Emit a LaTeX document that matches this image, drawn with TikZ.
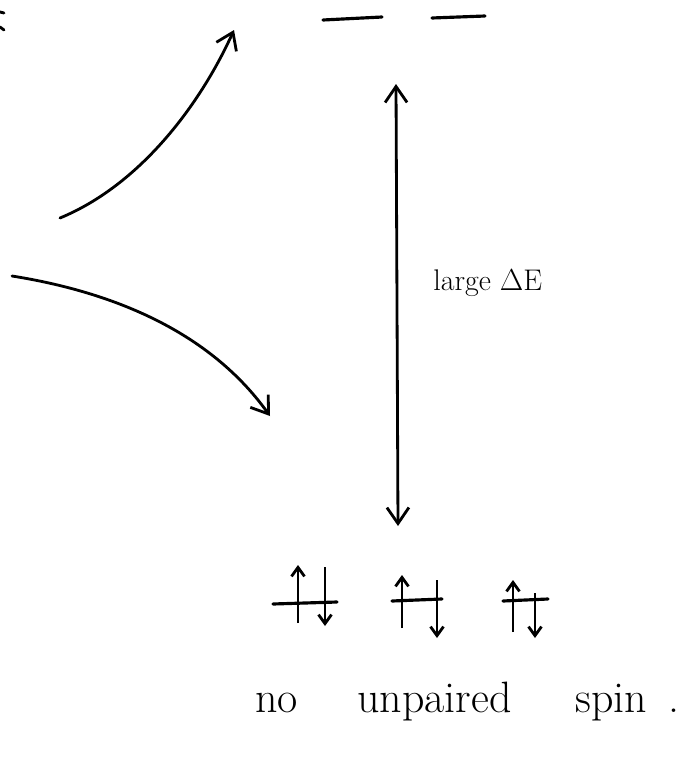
\documentclass[tikz,border=0pt]{standalone}
\usepackage{tikz}
\usetikzlibrary{arrows.meta}
\tikzset{
  level/.style    = {line width=1.8pt, line cap=round},
  sketch/.style   = {line width=1.6pt, line cap=round},
  trans/.style    = {sketch, -{Straight Barb[length=3.2mm,width=4.4mm]}},
  gap/.style      = {sketch, {Straight Barb[length=3.2mm,width=4.4mm]}-{Straight Barb[length=3.2mm,width=4.4mm]}},
  spinup/.style   = {line width=1.6pt, -{Straight Barb[length=1.8mm,width=2.6mm]}},
  spindown/.style = {line width=1.6pt, -{Straight Barb[length=1.8mm,width=2.6mm]}},
  words/.style    = {font=\fontsize{25}{30}\selectfont, inner sep=0pt},
}

\begin{document}
\begin{tikzpicture}[x=0.02cm,y=-0.02cm]
\useasboundingbox (0,0) rectangle (692,761);
% cut-off mark at the left edge
\draw[sketch] (0,12) -- (4,13);
\draw[sketch] (0,27) -- (4,30);
% empty upper levels
\coordinate (e1a) at (323,20); \coordinate (e1b) at (382,17);
\coordinate (e2a) at (432,18); \coordinate (e2b) at (485,16);
\draw[level] (e1a) -- (e1b);
\draw[level] (e2a) -- (e2b);
% curved arrows from the left
\coordinate (c1s) at (60,218);  \coordinate (c1e) at (234,30);
\coordinate (c2s) at (12,276);  \coordinate (c2e) at (270,416);
\draw[trans] (c1s) .. controls (140,185) and (200,105) .. (c1e);
\draw[trans] (c2s) .. controls (100,290) and (205,325) .. (c2e);
% energy gap
\coordinate (top) at (396,84);
\coordinate (bot) at (398,526);
\draw[gap] (top) -- (bot);
\node[words,font=\fontsize{17}{21}\selectfont,anchor=west] (gaplbl) at (433,283) {large $\Delta$E};
% filled lower levels
\foreach \xa/\xb/\yl/\xu/\ubot/\utop/\xd/\dtop/\dbot in
  {273/337/604/298/623/565/325/567/626,
   392/442/601/402/628/575/437/580/638,
   503/548/601/513/632/580/535/593/638}{
  \draw[level] (\xa,\yl) -- (\xb,\yl-2);
  \draw[spinup] (\xu,\ubot) -- (\xu,\utop);
  \draw[spindown] (\xd,\dtop) -- (\xd,\dbot);
}
\node[words,anchor=base west] (w1) at (255,712) {no};
\node[words,anchor=base west] (w2) at (357,712) {unpaired};
\node[words,anchor=base west] (w3) at (575,712) {spin};
\node[words,anchor=base west] (w4) at (668,712) {.};
\end{tikzpicture}
\end{document}
